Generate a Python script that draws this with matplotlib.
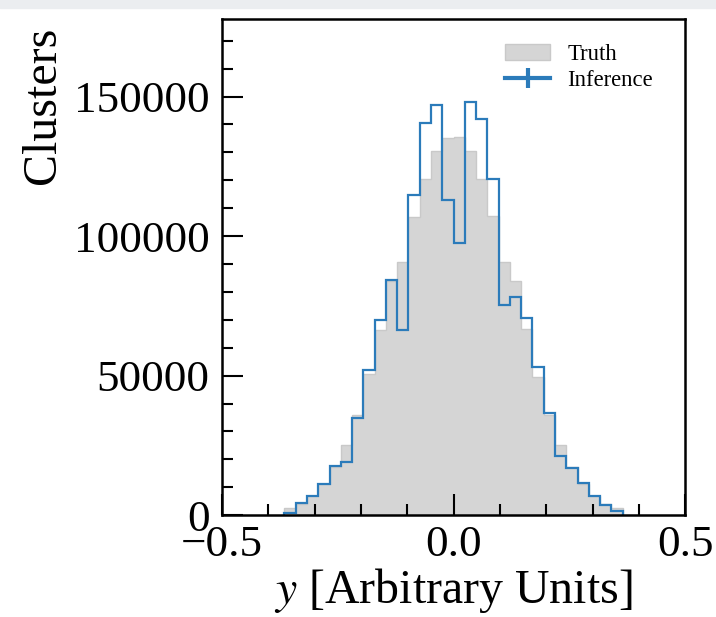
import numpy as np
import matplotlib.pyplot as plt
from matplotlib.lines import Line2D
from matplotlib.patches import Patch, Rectangle
from matplotlib.ticker import MultipleLocator

plt.rcParams['font.family'] = ['Liberation Serif', 'DejaVu Serif']
plt.rcParams['mathtext.fontset'] = 'stix'

# histogram binning (30 equal bins)
bin_lo = -0.365
bin_hi = 0.365
n_bins = 30

truth = [2400, 4100, 6700, 11000, 17400, 25300, 35800, 50500, 66300, 83900,
         90700, 106900, 120300, 130500, 135000, 135400, 130500, 120300, 107200, 90600,
         83900, 66600, 49600, 35800, 25100, 17200, 11300, 6800, 4000, 2400]
inference = [830, 4190, 6800, 11100, 17560, 19100, 34900, 52000, 69900, 84200,
             66300, 114600, 140400, 147000, 113100, 97400, 148100, 141800, 120300, 75300,
             78000, 70500, 53200, 36700, 21300, 17000, 11400, 6800, 3600, 1430]

edges = np.linspace(bin_lo, bin_hi, n_bins + 1)
blue = '#2b7bba'
grey = '#d5d5d5'

fig = plt.figure(figsize=(7.16, 6.17), dpi=100)
fig.patches.append(Rectangle((0, 1 - 8 / 617), 1, 8 / 617, transform=fig.transFigure,
                             color='#ebedf0', zorder=0))
ax = fig.add_axes([0.310, 0.165, 0.647, 0.804])

ax.stairs(truth, edges, fill=True, facecolor=grey, edgecolor='#c9c9c9', lw=1)
ax.stairs(inference, edges, color=blue, lw=1.6)

ax.set_xlim(-0.5, 0.5)
ax.set_ylim(0, 1.2 * max(inference))
ax.xaxis.set_major_locator(MultipleLocator(0.5))
ax.xaxis.set_minor_locator(MultipleLocator(0.1))
ax.yaxis.set_major_locator(MultipleLocator(50000))
ax.yaxis.set_minor_locator(MultipleLocator(10000))
ax.tick_params(which='both', direction='in', labelsize=32.5, width=1.5)
ax.tick_params(which='major', length=15)
ax.tick_params(which='minor', length=8)
ax.tick_params(axis='y', pad=9)
ax.tick_params(axis='x', pad=7)
for s in ax.spines.values():
    s.set_linewidth(1.8)

ax.set_xlabel('$y$ [Arbitrary Units]', fontsize=34.5, labelpad=1)
ax.set_ylabel('Clusters', fontsize=34.5, loc='top', labelpad=6)
ax.yaxis.label.set_y(0.985)

handles = [Patch(facecolor=grey, edgecolor='#c9c9c9'),
           Line2D([], [], color=blue, lw=3, marker='|', ms=14, mew=3)]
ax.legend(handles, ['Truth', 'Inference'], loc='upper right', bbox_to_anchor=(0.95, 0.968),
          borderaxespad=0, frameon=False, fontsize=16.3, handlelength=2.0,
          handletextpad=0.75, labelspacing=0.2)

fig.savefig('out.png', dpi=100)
